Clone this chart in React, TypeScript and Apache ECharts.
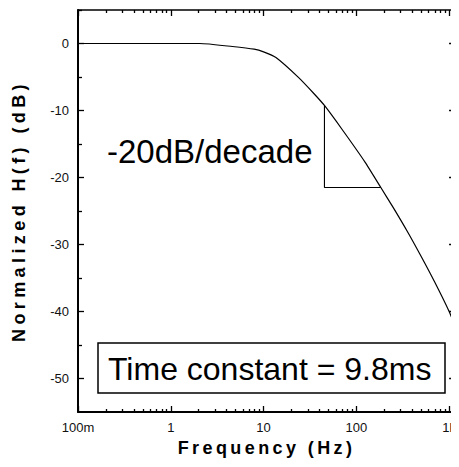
import React, { useEffect, useRef } from "react";
import * as echarts from "echarts";

const frequencyHz = [0.105, 0.6, 2.05, 4.61, 7.92, 10, 13.6, 23.9, 35, 45.3, 70, 124, 183.6, 250, 356, 500, 692, 1000, 1159];
const responseDb = [0, 0, 0, -0.45, -0.85, -1.25, -2.1, -5.1, -7.5, -9.25, -12.8, -17.7, -21.5, -24.5, -28.1, -31.8, -35.5, -40.0, -42.2];

// -20 dB/decade slope triangle
const slopeFreqHz = [45.3, 45.3, 183.6];
const slopeDb = [-9.25, -21.5, -21.5];

// Axis ticks
const freqMajorTicks = [0.1, 1, 10, 100, 1000];
const freqMajorLabels = ["100m", "1", "10", "100", "1k"];
const freqMinorMultipliers = [2, 3, 4, 5, 6, 7, 8, 9];
const dbMajorTicks = [0, -10, -20, -30, -40, -50];
const dbMinorTicks = [5, -5, -15, -25, -35, -45];

const FREQ_MIN_LOG = -1;
const FREQ_MAX_LOG = 3.064;
const DB_MIN = -55;
const DB_MAX = 5;

const xMajorVals = freqMajorTicks.map((f) => Math.log10(f));
const xMinorVals: number[] = [];
freqMajorTicks.forEach((d) => {
  freqMinorMultipliers.forEach((m) => {
    const v = Math.log10(d * m);
    if (v <= FREQ_MAX_LOG) xMinorVals.push(v);
  });
});

const FONT = "'Liberation Sans', Arial, Helvetica, sans-serif";

function xAxisDef(position: any, major: boolean, showLabels: boolean, name?: string): any {
  return {
    type: "value",
    position,
    min: FREQ_MIN_LOG,
    max: FREQ_MAX_LOG,
    name: name || "",
    nameLocation: "middle",
    nameGap: 27,
    nameTextStyle: { fontFamily: FONT, fontWeight: "bold", fontSize: 18, color: "#000" },
    axisLine: { show: major, onZero: false, lineStyle: { color: "#000", width: position === "bottom" ? 2 : 1.5 } },
    axisTick: {
      show: true,
      inside: true,
      length: major ? 6 : 3,
      customValues: major ? xMajorVals : xMinorVals,
      lineStyle: { color: "#000", width: 1.3 },
    },
    axisLabel: {
      show: showLabels,
      customValues: xMajorVals,
      margin: 9,
      fontFamily: FONT,
      fontSize: 13,
      color: "#111",
      formatter: (v: number) => {
        const i = xMajorVals.findIndex((t) => Math.abs(t - v) < 1e-6);
        return i >= 0 ? freqMajorLabels[i] : "";
      },
    },
    splitLine: { show: false },
  };
}

function yAxisDef(position: any, major: boolean, showLabels: boolean, name?: string): any {
  return {
    type: "value",
    position,
    min: DB_MIN,
    max: DB_MAX,
    name: name || "",
    nameLocation: "middle",
    nameGap: 50,
    nameTextStyle: { fontFamily: FONT, fontWeight: "bold", fontSize: 18, color: "#000" },
    axisLine: { show: major, onZero: false, lineStyle: { color: "#000", width: position === "left" ? 2 : 1 } },
    axisTick: {
      show: true,
      inside: true,
      length: major ? 6 : 4,
      customValues: major ? dbMajorTicks : dbMinorTicks,
      lineStyle: { color: "#000", width: 1.3 },
    },
    axisLabel: {
      show: showLabels,
      customValues: dbMajorTicks,
      margin: 9,
      fontFamily: FONT,
      fontSize: 13,
      color: "#111",
    },
    splitLine: { show: false },
  };
}

export default function App() {
  const ref = useRef<HTMLDivElement>(null);

  useEffect(() => {
    if (!ref.current) return;
    const el = ref.current;
    const chart = echarts.init(el, null, { renderer: "svg" });

    const option: any = {
      animation: false,
      grid: { left: 78, top: 10, right: 1, bottom: 55 },
      xAxis: [
        xAxisDef("bottom", true, true, "Frequency (Hz)"),
        xAxisDef("bottom", false, false),
        xAxisDef("top", true, false),
        xAxisDef("top", false, false),
      ],
      yAxis: [
        yAxisDef("left", true, true, "Normalized H(f) (dB)"),
        yAxisDef("left", false, false),
        yAxisDef("right", true, false),
        yAxisDef("right", false, false),
      ],
      series: [
        {
          type: "line",
          data: frequencyHz.map((f, i) => [Math.log10(f), responseDb[i]]),
          smooth: 0.2,
          showSymbol: false,
          lineStyle: { color: "#000", width: 1.2 },
        },
        {
          type: "line",
          data: slopeFreqHz.map((f, i) => [Math.log10(f), slopeDb[i]]),
          showSymbol: false,
          lineStyle: { color: "#000", width: 1.1 },
        },
      ],
      graphic: [
        {
          type: "text",
          x: 107,
          y: 151,
          style: {
            text: "-20dB/decade",
            font: `33px ${FONT}`,
            fill: "#000",
            verticalAlign: "middle",
          },
        },
        {
          type: "rect",
          shape: { x: 98, y: 343, width: 347, height: 50 },
          style: { fill: "#fff", stroke: "#000", lineWidth: 1.5 },
        },
        {
          type: "text",
          x: 108,
          y: 369,
          style: {
            text: "Time constant = 9.8ms",
            font: `32px ${FONT}`,
            fill: "#000",
            verticalAlign: "middle",
          },
        },
      ],
    };

    chart.setOption(option);

    const applySpacing = () => {
      el.querySelectorAll("text").forEach((t) => {
        const s = t.textContent || "";
        if (s === "Frequency (Hz)") t.setAttribute("letter-spacing", "3.4");
        if (s === "Normalized H(f) (dB)") t.setAttribute("letter-spacing", "4.4");
      });
    };
    applySpacing();
    chart.on("finished", applySpacing);

    return () => {
      chart.dispose();
    };
  }, []);

  return <div ref={ref} style={{ width: 459, height: 467, margin: -8 }} />;
}
